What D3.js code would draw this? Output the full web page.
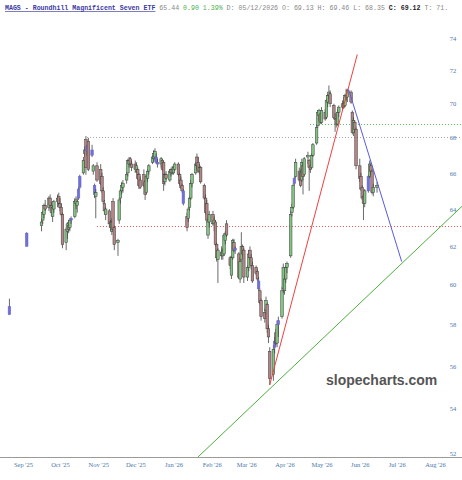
<!DOCTYPE html>
<html><head><meta charset="utf-8">
<script src="https://cdn.jsdelivr.net/npm/d3@7"></script>
<style>body{margin:0;background:#fff}svg{display:block}</style>
</head><body>
<svg id="c" width="462" height="480"></svg>
<script>
// ---------- DATA ----------
const title = "MAGS - Roundhill Magnificent Seven ETF";
const quoteLast = "65.44", quoteChg = "0.90 1.39%";
const quoteInfo = "D: 05/12/2026 O: 69.13 H: 69.46 L: 68.35";
const quoteClose = "C: 69.12", quoteTail = "T: 71.";
const watermark = "slopecharts.com";

const yTicks = [52,54,56,58,60,62,64,66,68,70,72,74];
const monthTicks = ["2025-09-01","2025-10-01","2025-11-01","2025-12-01","2026-01-01","2026-02-01","2026-03-01","2026-04-01","2026-05-01","2026-06-01","2026-07-01","2026-08-01"];
const monthLabels = ["Sep '25","Oct '25","Nov '25","Dec '25","Jan '26","Feb '26","Mar '26","Apr '26","May '26","Jun '26","Jul '26","Aug '26"];

// [day, open, high, low, close, colour: g=up, r=down, b=blue]
const aug25 = [[21,58.9,59.3,58.5,58.5,"b"]];
const sep25 = [[4,62.7,62.75,62.0,62.0,"b"],
 [16,63.1,63.5,62.8,63.3,"g"],[17,63.4,63.9,63.2,63.8,"g"],[18,63.7,64.3,63.5,64.2,"g"],[19,64.2,64.5,63.9,64.0,"r"],
 [22,64.1,64.7,63.9,64.6,"g"],[23,64.6,64.8,64.0,64.2,"r"],[24,64.2,64.4,63.6,63.8,"r"],[25,63.6,64.2,63.3,64.1,"g"],
 [26,64.0,64.5,63.8,64.4,"g"],[29,64.4,64.8,64.1,64.6,"g"],[30,64.7,64.9,64.2,64.3,"r"]];
const oct25 = [[1,64.3,64.6,63.9,64.1,"r"],[2,64.1,64.3,63.6,63.7,"r"],[3,63.7,63.8,61.9,62.1,"r"],
 [6,62.2,63.0,61.8,62.9,"g"],[7,62.8,63.3,62.4,63.2,"g"],[8,63.1,63.4,62.7,62.9,"r"],[9,63.0,63.5,62.8,63.4,"g"],
 [10,63.4,63.6,63.2,63.5,"b"],[13,63.6,64.6,63.5,64.4,"g"],[14,64.3,64.7,64.0,64.5,"g"],[15,64.2,64.6,63.8,64.4,"g"],
 [16,64.6,65.2,64.5,65.1,"b"],[17,65.2,65.9,65.1,65.8,"b"],[20,66.0,66.9,65.9,66.7,"g"],[21,67.1,67.5,66.9,67.3,"g"],
 [22,67.9,68.1,65.9,66.3,"r"],[23,67.2,67.6,67.0,67.5,"b"],[24,67.8,68.0,66.1,66.2,"r"],[27,67.3,67.6,66.9,67.0,"b"],
 [28,66.1,66.5,65.9,66.4,"g"],[29,65.3,65.4,64.6,64.8,"b"],[30,64.7,65.1,63.5,64.9,"g"],[31,66.4,66.6,65.5,65.6,"r"]];
const nov25 = [[3,66.2,66.5,65.3,65.4,"r"],[4,65.8,66.0,64.9,65.0,"r"],[5,65.0,65.2,64.3,64.4,"r"],[6,64.3,64.5,63.7,63.9,"r"],
 [7,63.7,64.1,63.4,64.0,"g"],[10,63.9,64.0,63.0,63.2,"r"],[11,63.3,63.4,62.8,63.0,"r"],[12,62.8,63.5,62.6,63.3,"g"],
 [13,64.4,64.6,62.8,62.9,"r"],[14,63.0,63.1,61.8,62.1,"r"],[17,62.2,62.4,61.5,62.3,"g"],[18,63.4,64.6,63.2,64.5,"g"],
 [19,64.6,65.1,64.3,65.0,"g"],[20,65.0,65.5,64.8,65.3,"g"],[21,65.2,65.6,64.9,65.4,"g"],[24,65.6,66.0,65.4,65.9,"g"],
 [25,66.0,66.8,65.8,66.7,"g"],[26,66.5,66.9,66.3,66.7,"g"],[27,66.8,66.9,66.4,66.5,"r"],[28,66.5,66.7,66.1,66.3,"r"]];
const dec25 = [[1,66.5,66.7,66.0,66.2,"r"],[2,66.1,66.6,66.0,66.4,"g"],[3,66.2,66.3,65.6,65.7,"r"],[4,65.9,66.0,65.1,65.3,"r"],
 [5,65.6,65.8,65.1,65.2,"r"],[8,65.9,66.2,65.2,65.3,"r"],[9,65.5,65.6,64.5,64.8,"r"],[10,64.9,65.9,64.8,65.8,"g"],
 [11,65.7,66.2,65.5,66.1,"g"],[12,66.1,66.5,65.9,66.4,"g"],[15,66.6,67.0,66.5,66.9,"g"],[16,66.8,67.3,66.6,67.1,"g"],
 [17,66.9,67.4,66.7,67.2,"g"],[18,66.9,67.1,66.5,66.6,"b"],[19,66.6,66.8,66.3,66.5,"b"],[22,66.5,66.9,66.3,66.8,"g"],
 [23,66.7,66.8,66.1,66.2,"r"],[24,66.6,66.7,65.0,65.4,"r"],[25,65.5,66.0,65.3,65.9,"g"],[26,65.9,66.1,65.6,65.7,"r"],
 [29,65.6,66.2,65.5,66.1,"g"],[30,66.0,66.3,65.8,66.2,"g"],[31,66.2,66.4,65.9,66.0,"r"]];
const jan26 = [[1,66.0,66.4,65.9,66.3,"g"],[2,66.2,66.6,66.1,66.5,"g"],[5,66.5,66.6,65.8,65.9,"r"],[6,65.9,66.0,65.3,65.4,"r"],
 [7,65.6,65.8,65.1,65.2,"r"],[8,65.3,65.4,64.9,65.0,"r"],[9,65.0,65.1,64.2,64.3,"b"],[12,63.6,63.8,62.8,63.0,"r"],
 [13,63.5,64.1,63.3,64.0,"g"],[14,64.1,64.7,63.9,64.6,"g"],[15,64.6,65.6,64.5,65.4,"g"],[16,65.4,66.0,65.2,65.9,"g"],
 [19,66.0,66.6,65.9,66.5,"g"],[20,66.9,67.1,66.2,66.4,"r"],[21,66.6,66.9,66.0,66.1,"r"],[22,66.1,66.5,65.9,66.3,"g"],
 [23,66.3,66.4,65.4,65.5,"r"],[26,65.3,65.4,64.5,64.6,"r"],[27,64.6,64.8,63.7,63.8,"r"],[28,64.3,64.5,63.3,63.4,"r"],
 [29,62.6,63.5,62.4,63.3,"g"],[30,63.3,63.9,63.0,63.7,"g"]];
const feb26 = [[2,63.7,63.9,63.1,63.2,"r"],[3,63.2,63.6,62.8,63.4,"g"],[4,63.3,63.4,62.0,62.1,"r"],[5,62.1,62.2,61.2,61.4,"r"],
 [6,61.3,61.9,60.1,61.8,"g"],[9,61.7,62.0,61.3,61.5,"r"],[10,61.5,61.9,61.3,61.8,"g"],[11,61.6,62.7,61.5,62.6,"g"],
 [12,62.3,62.8,62.1,62.7,"g"],[13,63.2,63.4,62.5,62.6,"r"],[16,61.4,61.5,60.8,61.0,"r"],[17,60.5,61.5,60.3,61.4,"g"],
 [18,61.4,62.4,61.3,62.3,"g"],[19,62.2,62.4,61.7,61.8,"r"],[20,61.8,62.0,61.6,61.9,"b"],[23,61.6,61.7,60.3,60.4,"r"],
 [24,60.3,61.4,60.1,61.2,"g"],[25,61.3,62.75,61.2,62.0,"g"],[26,62.0,62.1,61.5,61.6,"r"],[27,61.8,61.9,60.1,60.4,"r"]];
const mar26 = [[2,60.4,61.0,60.2,60.9,"g"],[3,60.9,61.8,60.7,61.6,"g"],[4,61.8,62.0,61.3,61.4,"r"],[5,61.4,61.6,60.8,61.0,"r"],
 [6,61.0,61.2,60.1,60.2,"r"],[9,60.9,61.0,60.5,60.6,"r"],[10,60.7,60.8,60.2,60.3,"r"],[11,60.2,60.4,59.7,59.8,"b"],
 [12,59.7,59.8,59.0,59.1,"r"],[13,59.2,59.3,58.2,58.4,"r"],[16,58.6,58.8,58.1,58.3,"r"],[17,58.7,59.4,58.5,59.2,"g"],
 [18,59.0,59.1,57.6,57.8,"r"],[19,57.8,58.0,57.1,57.4,"r"],[20,56.7,56.9,55.1,55.4,"r"],[23,55.6,57.0,55.3,56.8,"g"],
 [24,56.9,57.4,56.6,57.2,"b"],[25,57.6,57.8,57.0,57.1,"r"],[26,57.1,58.2,56.9,58.0,"g"],[27,58.0,58.4,57.4,58.2,"b"],
 [30,58.4,59.9,58.3,59.7,"g"],[31,59.8,61.1,59.6,60.9,"g"]];
const apr26 = [[1,59.7,60.5,59.5,60.3,"g"],[2,60.3,61.0,60.1,60.9,"g"],[3,60.9,61.2,60.6,61.1,"g"],[6,61.5,63.9,61.4,63.7,"g"],
 [7,63.8,64.3,63.6,64.1,"g"],[8,64.1,65.4,64.0,65.3,"g"],[9,65.4,65.8,65.3,65.7,"b"],[10,65.8,66.8,65.7,66.6,"g"],
 [13,66.1,66.3,65.5,65.6,"r"],[14,66.0,66.2,65.2,65.3,"r"],[15,65.6,66.8,65.5,66.6,"g"],[16,66.4,66.6,64.8,65.8,"r"],
 [17,65.9,66.9,65.8,66.8,"g"],[20,66.9,67.2,66.5,67.0,"g"],[21,66.7,66.8,65.0,66.3,"r"],[22,66.4,66.6,66.0,66.2,"r"],
 [23,66.3,67.1,66.2,67.0,"g"],[24,67.0,67.7,66.9,67.6,"g"],[27,67.7,68.7,67.6,68.6,"g"],[28,68.7,69.6,68.6,69.5,"g"],
 [29,69.3,69.7,69.0,69.6,"g"],[30,69.4,69.5,68.8,68.9,"r"]];
const may26 = [[1,68.9,69.8,68.8,69.6,"g"],[4,69.5,69.7,69.0,69.1,"r"],[5,69.2,70.3,69.1,70.2,"g"],[6,70.1,70.6,69.8,70.5,"g"],
 [7,70.5,71.1,70.3,70.7,"g"],[8,70.6,70.8,69.8,70.0,"r"],[11,69.9,70.0,69.1,69.2,"r"],[12,69.13,69.46,68.35,69.12,"r"],
 [13,69.1,69.4,68.6,68.8,"r"],[14,68.8,69.7,68.7,69.5,"g"],[15,69.5,69.9,69.2,69.8,"g"],[18,69.8,70.2,69.6,70.0,"g"],
 [19,70.0,70.4,69.7,69.8,"r"],[20,69.9,70.6,69.8,70.5,"g"],[21,70.5,70.9,70.2,70.4,"r"],[22,70.4,70.9,70.1,70.8,"g"],
 [25,70.7,70.8,70.0,70.1,"r"],[26,69.5,69.6,68.2,68.3,"r"],[27,68.3,69.2,68.1,69.0,"g"],[28,68.9,69.0,68.3,68.5,"r"],
 [29,68.5,68.6,66.2,66.4,"r"]];
const jun26 = [[1,66.4,66.8,65.5,65.7,"r"],[2,65.8,66.0,65.0,65.1,"r"],[3,65.2,65.3,64.5,64.6,"r"],[4,64.7,64.9,63.4,64.3,"r"],
 [5,64.3,65.1,64.1,65.0,"g"],[8,65.0,65.9,64.9,65.8,"b"],[9,65.8,66.7,65.7,66.5,"g"],[10,66.4,66.6,65.9,66.1,"r"],
 [11,66.1,66.2,64.8,64.9,"r"],[12,64.9,65.4,64.7,65.2,"g"],[15,65.2,65.5,64.9,65.3,"g"]];

// trend lines [date, price]
const redTrend   = [["2026-03-20",55.1],["2026-05-30",73.0]];
const blueTrend  = [["2026-05-23",70.86],["2026-07-05",61.2]];
const greenTrend = [["2026-01-21",51.83],["2026-08-23",64.16]];
// horizontal dotted levels [startDate, price, colour]
const levels = [["2025-10-23",68.05,"#a8a8a8"],["2025-10-31",63.1,"#f25a5a"],["2026-04-22",68.78,"#62c262"]];

// ---------- BUILD ----------
const months = [["2025-08",aug25],["2025-09",sep25],["2025-10",oct25],["2025-11",nov25],["2025-12",dec25],
  ["2026-01",jan26],["2026-02",feb26],["2026-03",mar26],["2026-04",apr26],["2026-05",may26],["2026-06",jun26]];
const parse = d3.timeParse("%Y-%m-%d");
const candles = [];
months.forEach(([ym,arr]) => arr.forEach(r => candles.push({
  date: parse(ym + "-" + String(r[0]).padStart(2,"0")), o:r[1], h:r[2], l:r[3], c:r[4], k:r[5]})));

const W = 462, H = 480;
const svg = d3.select("#c");
const x = d3.scaleTime().domain([parse("2025-09-01"), parse("2026-08-01")]).range([23, 435]);
const y = d3.scaleLog().domain([52, 74]).range([453, 38.5]);

svg.append("defs").append("clipPath").attr("id","plot")
  .append("rect").attr("x",0).attr("y",18).attr("width",W).attr("height",457-18);

// y axis labels
const yAx = d3.axisRight(y).tickValues(yTicks).tickSize(0).tickPadding(0).tickFormat(d3.format("d"));
const gy = svg.append("g").attr("transform","translate(453,0)").call(yAx);
gy.select(".domain").remove();
gy.selectAll("text").attr("text-anchor","middle").attr("font-family","Liberation Serif, serif")
  .attr("font-size",6.5).attr("fill","#4a78aa").attr("dx",0);

// bottom line
svg.append("line").attr("x1",0).attr("x2",W).attr("y1",457.5).attr("y2",457.5)
  .attr("stroke","#9a9a9a").attr("stroke-width",1);

// x axis labels
const xAx = d3.axisBottom(x).tickValues(monthTicks.map(parse)).tickSize(0).tickPadding(0)
  .tickFormat((d,i) => monthLabels[i]);
const gx = svg.append("g").attr("transform","translate(0,465)").call(xAx);
gx.select(".domain").remove();
gx.selectAll("text").attr("font-family","Liberation Serif, serif").attr("font-size",6.5)
  .attr("fill","#4a78aa").attr("dy","0.35em");

const plot = svg.append("g").attr("clip-path","url(#plot)");

// dotted levels (snapped to pixel centres so dots stay crisp)
plot.selectAll("line.lvl").data(levels).join("line").attr("class","lvl")
  .attr("x1",d => Math.round(x(parse(d[0])))).attr("x2",W)
  .attr("y1",d => Math.round(y(d[1])) + 0.5).attr("y2",d => Math.round(y(d[1])) + 0.5)
  .attr("stroke",d => d[2]).attr("stroke-width",1).attr("stroke-dasharray","1,2");

// candles
const cw = 2.6;
const fill = {g:"#82c482", r:"#b58585", b:"#7070d8"};
const cg = plot.selectAll("g.c").data(candles).join("g").attr("class","c");
cg.append("line").attr("x1",d => x(d.date)).attr("x2",d => x(d.date))
  .attr("y1",d => y(d.h)).attr("y2",d => y(d.l)).attr("stroke","#444").attr("stroke-width",0.8);
cg.append("rect").attr("x",d => x(d.date)-cw/2).attr("width",cw)
  .attr("y",d => y(Math.max(d.o,d.c))).attr("height",d => Math.max(0.8, Math.abs(y(d.o)-y(d.c))))
  .attr("fill",d => fill[d.k]).attr("stroke",d => d.k==="b" ? "#6464cc" : "#3a3a3a").attr("stroke-width",0.5);

// trend lines
const line = d3.line().x(d => x(parse(d[0]))).y(d => y(d[1]));
[[redTrend,"#f04040"],[blueTrend,"#5a5ae0"],[greenTrend,"#4caf3c"]].forEach(([pts,col]) => {
  plot.append("path").attr("d",line(pts)).attr("fill","none").attr("stroke",col).attr("stroke-width",1);
});

// watermark
svg.append("text").attr("x",326).attr("y",385).text(watermark)
  .attr("font-family","Liberation Sans, Arial, sans-serif").attr("font-weight","bold")
  .attr("font-size",14).attr("fill","#555");

// header
const hdr = svg.append("text").attr("x",5).attr("y",10).attr("font-family","Liberation Mono, monospace")
  .attr("font-size",6.6).attr("fill","#888");
hdr.append("tspan").text(title).attr("fill","#3a3aa0").attr("font-weight","bold").attr("text-decoration","underline");
hdr.append("tspan").text(" " + quoteLast + " ");
hdr.append("tspan").text(quoteChg).attr("fill","#4caf50");
hdr.append("tspan").text(" " + quoteInfo + " ");
hdr.append("tspan").text(quoteClose).attr("fill","#222").attr("font-weight","bold");
hdr.append("tspan").text(" " + quoteTail);
</script>
</body></html>
